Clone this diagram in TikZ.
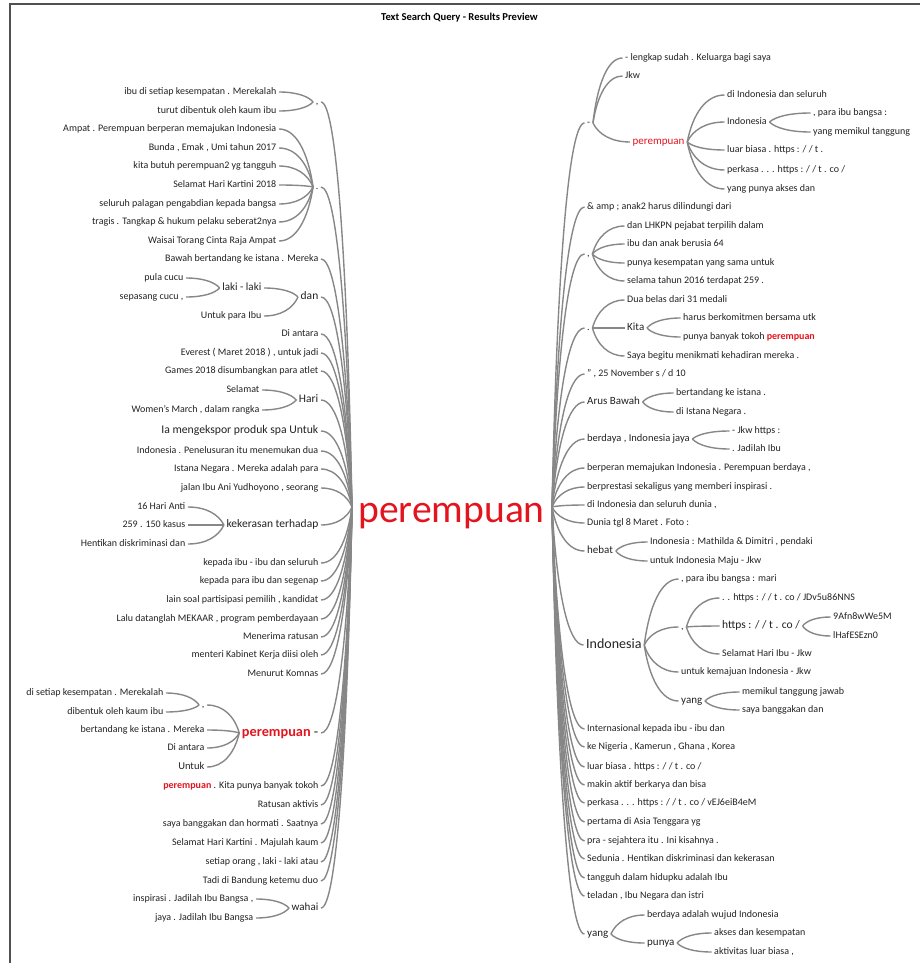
\documentclass[tikz,border=0pt]{standalone}
\usepackage{fontspec}
\setmainfont{Carlito}
\usetikzlibrary{calc}
\definecolor{txt}{HTML}{222222}
\definecolor{hl}{HTML}{E3141E}
\definecolor{cn}{HTML}{878787}
\definecolor{fr}{HTML}{505050}
\newcommand{\wt}[2]{\draw[conn] let \p1=(#1), \p2=(#2) in (\p1) .. controls ({\x1+0.15*(\x2-\x1)},{\y1+0.6*(\y2-\y1)}) and ({\x1+0.5*(\x2-\x1)},\y2) .. (\p2);}
\newcommand{\hlw}{\textbf{\color{hl}perempuan}}
\tikzset{
  conn/.style={draw=cn, line width=1.4pt},
  fs/.style={font=\fontsize{#1}{#1}\selectfont, text height={0.7*#1pt}, text depth={0.2*#1pt}},
  w/.style={text=txt, inner xsep=2.5pt, inner ysep=0pt, fs=10},
  L/.style={w, anchor=east},
  R/.style={w, anchor=west},
}
\begin{document}
\begin{tikzpicture}[x=1pt,y=-1pt]
\useasboundingbox (0,0) rectangle (919,963);
\draw[fr, line width=1.2pt] (10,970) -- (10,4) -- (925,4);
\node[font=\bfseries\fontsize{10.6}{12}\selectfont, text=black] (title) at (459.5,18) {Text Search Query - Results Preview};
% centre
\node[font=\fontsize{39.6}{40}\selectfont, text=hl, anchor=base, inner sep=0pt] (c) at (451.5,522) {perempuan};
\coordinate (L0) at (352,507);
\coordinate (R0) at (552,507);
% ---------------- left ----------------
\node[L] (l1) at (321,102) {,};
\node[L] (l1a) at (279,92) {ibu di setiap kesempatan . Merekalah};
\node[L] (l1b) at (279,111) {turut dibentuk oleh kaum ibu};
\node[L] (l2) at (321,187) {.};
\node[L] (l2a) at (279,129) {Ampat . Perempuan berperan memajukan Indonesia};
\node[L] (l2b) at (279,148) {Bunda , Emak , Umi tahun 2017};
\node[L] (l2c) at (279,166) {kita butuh perempuan2 yg tangguh};
\node[L] (l2d) at (279,185) {Selamat Hari Kartini 2018};
\node[L] (l2e) at (279,204) {seluruh palagan pengabdian kepada bangsa};
\node[L] (l2f) at (279,222) {tragis . Tangkap \& hukum pelaku seberat2nya};
\node[L] (l2g) at (279,241) {Waisai Torang Cinta Raja Ampat};
\node[L] (l3) at (321,259) {Bawah bertandang ke istana . Mereka};
\node[L, fs=11.5] (l4) at (321,297) {dan};
\node[L, fs=11] (l4a) at (264,288) {laki - laki};
\node[L] (l4a1) at (186,278) {pula cucu};
\node[L] (l4a2) at (186,297) {sepasang cucu ,};
\node[L] (l4b) at (264,316) {Untuk para Ibu};
\node[L] (l5) at (321,334) {Di antara};
\node[L] (l6) at (321,353) {Everest ( Maret 2018 ) , untuk jadi};
\node[L] (l7) at (321,371) {Games 2018 disumbangkan para atlet};
\node[L, fs=11.5] (l8) at (321,400) {Hari};
\node[L] (l8a) at (262,390) {Selamat};
\node[L] (l8b) at (262,410) {Women’s March , dalam rangka};
\node[L, fs=11.7] (l9) at (321,431) {Ia mengekspor produk spa Untuk};
\node[L] (l10) at (321,451) {Indonesia . Penelusuran itu menemukan dua};
\node[L] (l11) at (321,469) {Istana Negara . Mereka adalah para};
\node[L] (l12) at (321,488) {jalan Ibu Ani Yudhoyono , seorang};
\node[L, fs=11.5] (l13) at (321,525) {kekerasan terhadap};
\node[L] (l13a) at (188,507) {16 Hari Anti};
\node[L] (l13b) at (188,525) {259 . 150 kasus};
\node[L] (l13c) at (188,544) {Hentikan diskriminasi dan};
\node[L] (l14) at (321,563) {kepada ibu - ibu dan seluruh};
\node[L] (l15) at (321,581) {kepada para ibu dan segenap};
\node[L] (l16) at (321,600) {lain soal partisipasi pemilih , kandidat};
\node[L] (l17) at (321,619) {Lalu datanglah MEKAAR , program pemberdayaan};
\node[L] (l18) at (321,637) {Menerima ratusan};
\node[L] (l19) at (321,655) {menteri Kabinet Kerja diisi oleh};
\node[L] (l20) at (321,674) {Menurut Komnas};
\node[L, fs=14.3] (l21) at (321,733) {\hlw{} -};
\node[L] (l21a) at (207,705) {,};
\node[L] (l21a1) at (166,693) {di setiap kesempatan . Merekalah};
\node[L] (l21a2) at (166,712) {dibentuk oleh kaum ibu};
\node[L] (l21b) at (207,730) {bertandang ke istana . Mereka};
\node[L] (l21c) at (207,748) {Di antara};
\node[L, fs=10.5] (l21d) at (207,767) {Untuk};
\node[L] (l22) at (321,786) {\hlw{} . Kita punya banyak tokoh};
\node[L] (l23) at (321,805) {Ratusan aktivis};
\node[L] (l24) at (321,824) {saya banggakan dan hormati . Saatnya};
\node[L] (l25) at (321,843) {Selamat Hari Kartini . Majulah kaum};
\node[L] (l26) at (321,862) {setiap orang , laki - laki atau};
\node[L] (l27) at (321,881) {Tadi di Bandung ketemu duo};
\node[L, fs=11] (l28) at (321,908) {wahai};
\node[L] (l28a) at (256,899) {inspirasi . Jadilah Ibu Bangsa ,};
\node[L] (l28b) at (256,918) {jaya . Jadilah Ibu Bangsa};
% ---------------- right ----------------
\node[R] (r1) at (584.5,123) {-};
\node[R] (r1a) at (622.5,58) {- lengkap sudah . Keluarga bagi saya};
\node[R] (r1b) at (622.5,76) {Jkw};
\node[R, fs=11, text=hl] (r1c) at (630,142) {perempuan};
\node[R] (r1c1) at (724.5,95) {di Indonesia dan seluruh};
\node[R] (r1c2) at (724.5,122) {Indonesia};
\node[R] (r1c2a) at (810.5,113) {, para ibu bangsa :};
\node[R] (r1c2b) at (810.5,132) {yang memikul tanggung};
\node[R] (r1c3) at (724.5,150) {luar biasa . https : / / t .};
\node[R] (r1c4) at (724.5,170) {perkasa . . . https : / / t . co /};
\node[R] (r1c5) at (724.5,189) {yang punya akses dan};
\node[R] (r2) at (584.5,207) {\& amp ; anak2 harus dilindungi dari};
\node[R] (r3) at (584.5,254) {,};
\node[R] (r3a) at (624.5,226) {dan LHKPN pejabat terpilih dalam};
\node[R] (r3b) at (624.5,244) {ibu dan anak berusia 64};
\node[R] (r3c) at (624.5,263) {punya kesempatan yang sama untuk};
\node[R] (r3d) at (624.5,281) {selama tahun 2016 terdapat 259 .};
\node[R] (r4) at (584.5,328) {.};
\node[R] (r4a) at (624.5,300) {Dua belas dari 31 medali};
\node[R, fs=11] (r4b) at (624.5,328) {Kita};
\node[R] (r4b1) at (680.5,318) {harus berkomitmen bersama utk};
\node[R] (r4b2) at (680.5,337) {punya banyak tokoh \hlw};
\node[R] (r4c) at (624.5,356) {Saya begitu menikmati kehadiran mereka .};
\node[R] (r5) at (584.5,374) {" , 25 November s / d 10};
\node[R, fs=11] (r6) at (584.5,402) {Arus Bawah};
\node[R] (r6a) at (673.5,393) {bertandang ke istana .};
\node[R] (r6b) at (673.5,412) {di Istana Negara .};
\node[R, fs=10.5] (r7) at (584.5,439) {berdaya , Indonesia jaya};
\node[R] (r7a) at (729.5,431) {- Jkw https :};
\node[R] (r7b) at (729.5,449) {. Jadilah Ibu};
\node[R] (r8) at (584.5,468) {berperan memajukan Indonesia . Perempuan berdaya ,};
\node[R] (r9) at (584.5,487) {berprestasi sekaligus yang memberi inspirasi .};
\node[R] (r10) at (584.5,505) {di Indonesia dan seluruh dunia ,};
\node[R] (r11) at (584.5,523) {Dunia tgl 8 Maret . Foto :};
\node[R, fs=11] (r12) at (584.5,551) {hebat};
\node[R] (r12a) at (647.5,542) {Indonesia : Mathilda \& Dimitri , pendaki};
\node[R] (r12b) at (647.5,561) {untuk Indonesia Maju - Jkw};
\node[R, fs=14] (r13) at (583.5,645) {Indonesia};
\node[R] (r13a) at (678.5,579) {, para ibu bangsa : mari};
\node[R] (r13b) at (678.5,627) {,};
\node[R] (r13b1) at (719.5,598) {. . https : / / t . co / JDv5u86NNS};
\node[R, fs=11.5] (r13b2) at (719.5,626) {https : / / t . co /};
\node[R] (r13b2a) at (830.5,617) {9Afn8wWe5M};
\node[R] (r13b2b) at (830.5,636) {lHafESEzn0};
\node[R] (r13b3) at (719.5,654) {Selamat Hari Ibu - Jkw};
\node[R] (r13c) at (678.5,672) {untuk kemajuan Indonesia - Jkw};
\node[R, fs=11] (r13d) at (678.5,701) {yang};
\node[R] (r13d1) at (739.5,692) {memikul tanggung jawab};
\node[R] (r13d2) at (739.5,710) {saya banggakan dan};
\node[R] (r14) at (584.5,729) {Internasional kepada ibu - ibu dan};
\node[R] (r15) at (584.5,747) {ke Nigeria , Kamerun , Ghana , Korea};
\node[R] (r16) at (584.5,767) {luar biasa . https : / / t . co /};
\node[R] (r17) at (584.5,785) {makin aktif berkarya dan bisa};
\node[R] (r18) at (584.5,803) {perkasa . . . https : / / t . co / vEJ6eiB4eM};
\node[R] (r19) at (584.5,822) {pertama di Asia Tenggara yg};
\node[R] (r20) at (584.5,841) {pra - sejahtera itu . Ini kisahnya .};
\node[R] (r21) at (584.5,859) {Sedunia . Hentikan diskriminasi dan kekerasan};
\node[R] (r22) at (584.5,878) {tangguh dalam hidupku adalah Ibu};
\node[R] (r23) at (584.5,896) {teladan , Ibu Negara dan istri};
\node[R, fs=11] (r24) at (584.5,934) {yang};
\node[R] (r24a) at (644.5,915) {berdaya adalah wujud Indonesia};
\node[R, fs=11] (r24b) at (644.5,943) {punya};
\node[R] (r24b1) at (711.5,933) {akses dan kesempatan};
\node[R] (r24b2) at (711.5,952) {aktivitas luar biasa ,};
% ---------------- connectors ----------------
\foreach \nm in {l1,l2,l3,l4,l5,l6,l7,l8,l9,l10,l11,l12,l13,l14,l15,l16,l17,l18,l19,l20,l21,l22,l23,l24,l25,l26,l27,l28}
  {\wt{L0}{\nm.east}}
\foreach \pa/\ch in {l1/l1a,l1/l1b,l2/l2a,l2/l2b,l2/l2c,l2/l2d,l2/l2e,l2/l2f,l2/l2g,
  l4/l4a,l4/l4b,l4a/l4a1,l4a/l4a2,l8/l8a,l8/l8b,l13/l13a,l13/l13b,l13/l13c,
  l21/l21a,l21/l21b,l21/l21c,l21/l21d,l21a/l21a1,l21a/l21a2,l28/l28a,l28/l28b}
  {\wt{\pa.west}{\ch.east}}
\foreach \nm in {r1,r2,r3,r4,r5,r6,r7,r8,r9,r10,r11,r12,r13,r14,r15,r16,r17,r18,r19,r20,r21,r22,r23,r24}
  {\wt{R0}{\nm.west}}
\foreach \pa/\ch in {r1/r1a,r1/r1b,r1/r1c,r1c/r1c1,r1c/r1c2,r1c/r1c3,r1c/r1c4,r1c/r1c5,r1c2/r1c2a,r1c2/r1c2b,
  r3/r3a,r3/r3b,r3/r3c,r3/r3d,r4/r4a,r4/r4b,r4/r4c,r4b/r4b1,r4b/r4b2,r6/r6a,r6/r6b,r7/r7a,r7/r7b,
  r12/r12a,r12/r12b,r13/r13a,r13/r13b,r13/r13c,r13/r13d,r13b/r13b1,r13b/r13b2,r13b/r13b3,
  r13b2/r13b2a,r13b2/r13b2b,r13d/r13d1,r13d/r13d2,r24/r24a,r24/r24b,r24b/r24b1,r24b/r24b2}
  {\wt{\pa.east}{\ch.west}}
\end{tikzpicture}
\end{document}
